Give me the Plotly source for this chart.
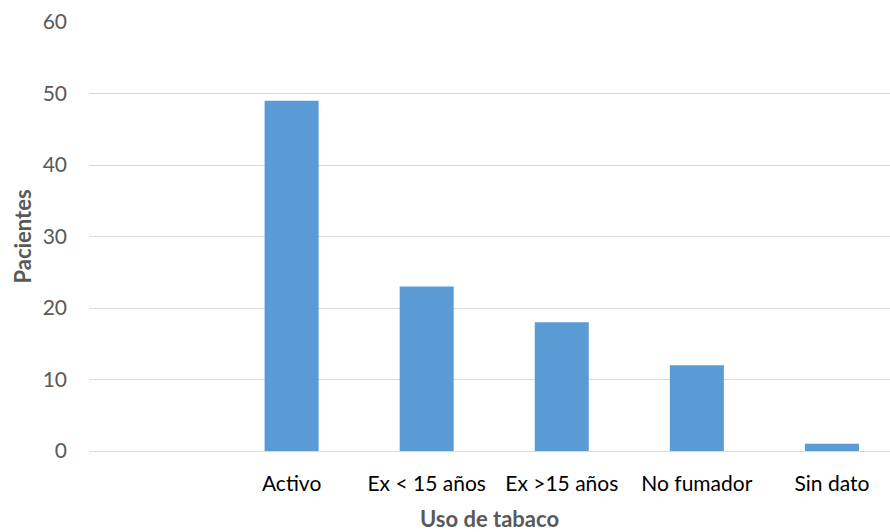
import plotly.graph_objects as go

# Tobacco use categories (first slot intentionally blank)
categories = [" ", "Activo", "Ex < 15 años", "Ex >15 años", "No fumador", "Sin dato"]
pacientes = [None, 49, 23, 18, 12, 1]
y_ticks = [0, 10, 20, 30, 40, 50, 60]

font_family = "Lato, 'Open Sans', sans-serif"

fig = go.Figure(
    go.Bar(
        x=categories,
        y=pacientes,
        marker=dict(color="#5B9BD5", line=dict(width=0)),
        width=0.4,
    )
)

fig.update_layout(
    width=890,
    height=532,
    margin=dict(l=89, r=0, t=22, b=81),
    paper_bgcolor="white",
    plot_bgcolor="white",
    showlegend=False,
    font=dict(family=font_family),
    xaxis=dict(
        type="category",
        categoryorder="array",
        categoryarray=categories,
        range=[-0.5, 5.43],
        showgrid=False,
        showline=True,
        linecolor="#D9D9D9",
        linewidth=1,
        ticks="",
        ticklabelstandoff=14,
        tickfont=dict(size=21, color="#000000", family=font_family),
        title=dict(
            text="<b>Uso de tabaco</b>",
            font=dict(size=22, color="#595959", family=font_family),
            standoff=20,
        ),
    ),
    yaxis=dict(
        range=[0, 60],
        tickvals=y_ticks,
        showgrid=True,
        gridcolor="#D9D9D9",
        gridwidth=1,
        zeroline=False,
        showline=False,
        ticks="",
        ticklabelstandoff=21,
        tickfont=dict(size=21, color="#595959", family=font_family),
        title=dict(
            text="<b>Pacientes</b>",
            font=dict(size=22, color="#595959", family=font_family),
            standoff=4,
        ),
    ),
)

fig.write_html("out.html")
